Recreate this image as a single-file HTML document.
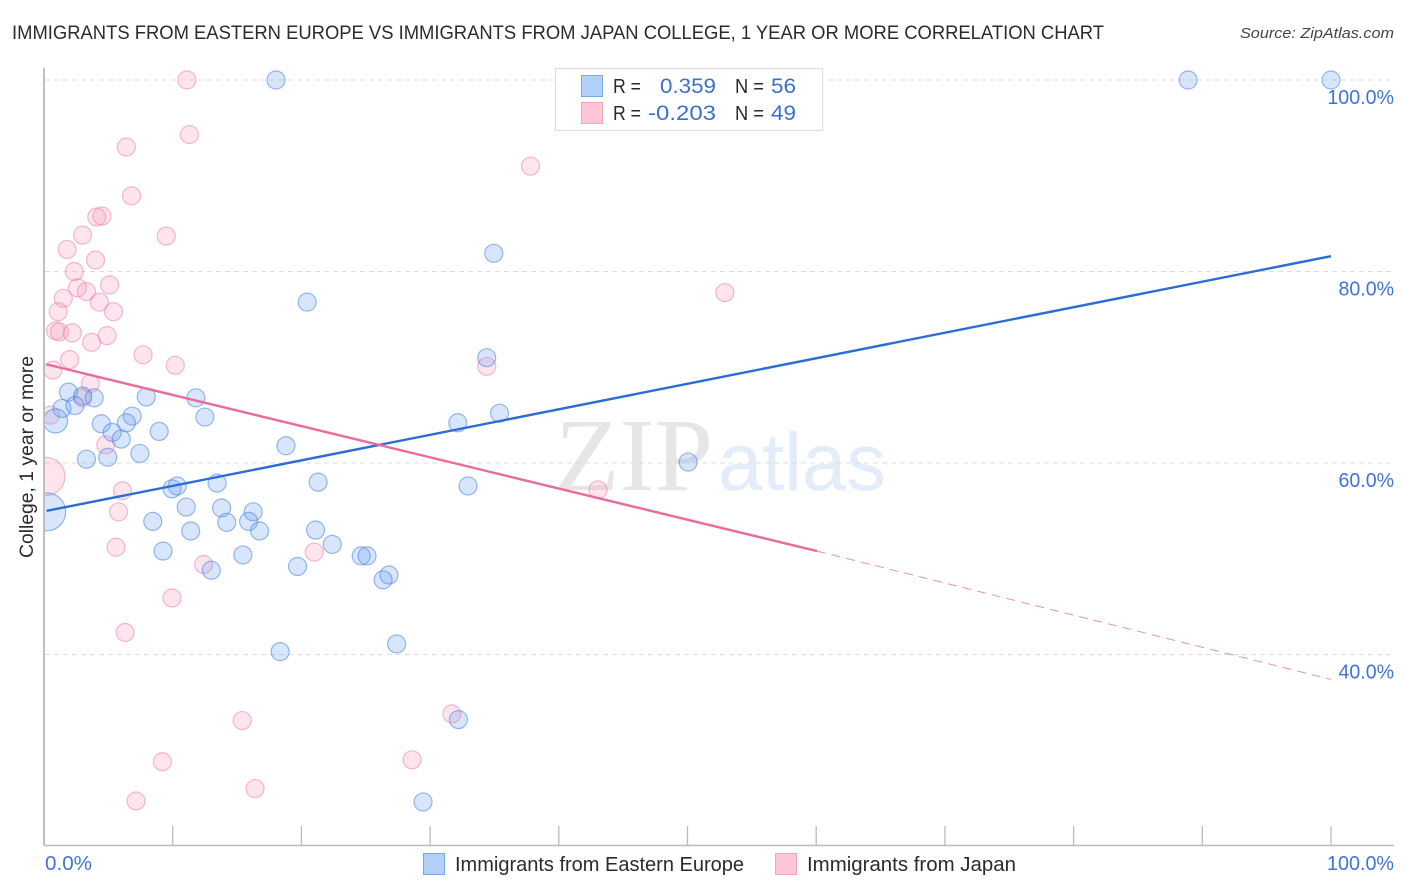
<!DOCTYPE html>
<html lang="en">
<head>
<meta charset="utf-8">
<title>Immigrants from Eastern Europe vs Immigrants from Japan College Correlation Chart</title>
<style>
html,body{margin:0;padding:0;background:#fff;}
svg{display:block;font-family:"Liberation Sans",sans-serif;}
</style>
</head>
<body>
<svg id="chart" width="1406" height="892" viewBox="0 0 1406 892" xmlns="http://www.w3.org/2000/svg">
  <defs><clipPath id="plot-clip"><rect x="45" y="60" width="1360" height="785"/></clipPath></defs>
  <text x="12" y="39" font-size="19.5" fill="#2b2b2b" textLength="1092" lengthAdjust="spacingAndGlyphs">IMMIGRANTS FROM EASTERN EUROPE VS IMMIGRANTS FROM JAPAN COLLEGE, 1 YEAR OR MORE CORRELATION CHART</text>
  <text x="1394" y="38" font-size="15" font-style="italic" fill="#444" text-anchor="end" textLength="154" lengthAdjust="spacingAndGlyphs">Source: ZipAtlas.com</text>
  <g id="watermark">
    <text x="555" y="490" font-family="'Liberation Serif',serif" font-size="104" fill="#e6e6e6" textLength="158" lengthAdjust="spacingAndGlyphs">ZIP</text>
    <text x="718" y="490" font-size="82" fill="#e3edfa" textLength="168" lengthAdjust="spacingAndGlyphs">atlas</text>
  </g>
  <g id="grid"></g>
  <g id="axes"></g>
  <g id="points" clip-path="url(#plot-clip)"></g>
  <g id="trends"></g>
  <g id="tick-labels"></g>
  <text transform="translate(33,457) rotate(-90)" font-size="19" fill="#2b2b2b" text-anchor="middle" textLength="202" lengthAdjust="spacingAndGlyphs">College, 1 year or more</text>

  <g>
    <rect x="555.5" y="68.5" width="267" height="62" fill="#fff" stroke="#ddd" stroke-width="1.2"/>
    <rect x="581.5" y="75.5" width="21" height="21" fill="#b3d1f8" stroke="#7aa7e6"/>
    <rect x="581.5" y="102.5" width="21" height="21" fill="#fcc6d8" stroke="#f2a3bf"/>
    <text x="613" y="93" font-size="20" fill="#2b2b2b" textLength="28" lengthAdjust="spacingAndGlyphs">R =</text>
    <text x="716" y="93" font-size="21.5" fill="#3a70d2" text-anchor="end" textLength="56" lengthAdjust="spacingAndGlyphs">0.359</text>
    <text x="735" y="93" font-size="20" fill="#2b2b2b" textLength="29" lengthAdjust="spacingAndGlyphs">N =</text>
    <text x="771" y="93" font-size="21.5" fill="#3a70d2" textLength="25" lengthAdjust="spacingAndGlyphs">56</text>
    <text x="613" y="120" font-size="20" fill="#2b2b2b" textLength="28" lengthAdjust="spacingAndGlyphs">R =</text>
    <text x="716" y="120" font-size="21.5" fill="#3a70d2" text-anchor="end" textLength="68" lengthAdjust="spacingAndGlyphs">-0.203</text>
    <text x="735" y="120" font-size="20" fill="#2b2b2b" textLength="29" lengthAdjust="spacingAndGlyphs">N =</text>
    <text x="771" y="120" font-size="21.5" fill="#3a70d2" textLength="25" lengthAdjust="spacingAndGlyphs">49</text>
  </g>

  <g>
    <g>
      <rect x="423.5" y="853.5" width="21" height="21" fill="#b3d1f8" stroke="#7aa7e6"/>
      <text x="455" y="871" font-size="20" fill="#2b2b2b" textLength="289" lengthAdjust="spacingAndGlyphs">Immigrants from Eastern Europe</text>
    </g>
    <g>
      <rect x="775.5" y="853.5" width="21" height="21" fill="#fcc6d8" stroke="#f2a3bf"/>
      <text x="807" y="871" font-size="20" fill="#2b2b2b" textLength="209" lengthAdjust="spacingAndGlyphs">Immigrants from Japan</text>
    </g>
  </g>
</svg>
<script>
const blueX = [18.03,88.9,100,34.95,20.45,34.4,1.9,3.0,3.9,7.95,11.8,1.4,2.4,0.9,6.85,4.45,6.4,12.5,5.3,8.95,6.0,18.8,7.45,3.3,4.95,32.15,35.4,50.05,32.95,21.3,13.45,9.95,10.35,11.05,13.8,16.25,8.45,14.2,15.9,11.4,16.75,21.1,22.4,0.2,9.25,15.45,19.7,24.65,25.1,26.8,26.35,13.0,18.35,27.4,32.2,29.45];
const blueY = [100,100,100,81.9,76.8,71.0,67.4,67.0,66.8,66.9,66.8,65.7,66.0,64.4,64.9,64.1,64.2,64.8,63.2,63.3,62.5,61.8,61.0,60.4,60.6,64.2,65.2,60.1,57.6,58.0,57.9,57.3,57.6,55.4,55.3,54.9,53.9,53.8,53.9,52.9,52.9,53.0,51.5,54.9,50.8,50.4,49.2,50.3,50.3,48.3,47.8,48.8,40.3,41.1,33.2,24.6];
const blueWeight = {13:1.8, 43:4.5};
const pinkX = [11.1,11.3,6.4,37.8,6.8,4.1,4.5,3.0,9.5,1.8,4.0,2.35,52.9,5.1,2.6,3.3,1.5,4.3,1.1,5.4,0.9,1.2,2.2,4.9,3.7,7.7,2.0,10.2,34.4,0.7,3.6,3.0,0.5,4.8,0.15,6.1,43.05,5.8,5.6,12.4,21.0,9.95,6.3,31.7,15.4,9.2,28.6,16.4,7.15];
const pinkY = [100,94.3,93.0,91.0,87.9,85.7,85.8,83.8,83.7,82.3,81.2,80.0,77.8,78.6,78.3,77.9,77.2,76.8,75.8,75.8,73.8,73.7,73.6,73.3,72.6,71.3,70.8,70.2,70.1,69.7,68.3,66.8,65.0,61.9,58.6,57.1,57.2,54.9,51.2,49.4,50.7,45.9,42.3,33.8,33.1,28.8,29.0,26.0,24.7];
const pinkWeight = {34:4.5};
const blueTrendX = [0.2,100];
const blueTrendY = [55.0,81.6];
const pinkTrendX = [0.2,60.06];
const pinkTrendY = [70.3,50.8];
const pinkDashX = [60.06,100];
const pinkDashY = [50.8,37.4];
const yTicks = [100,80,60,40];
const yTickLabels = ["100.0%","80.0%","60.0%","40.0%"];
const xTicks = [10,20,30,40,50,60,70,80,90,100];
const xEndLabels = ["0.0%","100.0%"];

const NS = "http://www.w3.org/2000/svg";
function xScale(v){ return 44 + v * 12.87; }
function yScale(v){ return 654.5 - (v - 40) * 9.575; }
function make(tag, attrs, parent){
  const el = document.createElementNS(NS, tag);
  for (const k in attrs) el.setAttribute(k, attrs[k]);
  parent.appendChild(el);
  return el;
}

const grid = document.getElementById("grid");
const axes = document.getElementById("axes");
const labels = document.getElementById("tick-labels");
const points = document.getElementById("points");
const trends = document.getElementById("trends");

yTicks.forEach(function(t, i){
  const line = make("line", {x1:45, x2:1394, y1:yScale(t), y2:yScale(t), stroke:"#dcdcdc", "stroke-width":1, "stroke-dasharray":"5 4"}, grid);
  
  
  const label = make("text", {x:1394, y:yScale(t) + 24, "font-size":20, fill:"#3f74d4", "text-anchor":"end", textLength:yTickLabels[i].length * 11.1, lengthAdjust:"spacingAndGlyphs"}, labels);
  
  
  label.textContent = yTickLabels[i];
});

const yAxis = make("line", {x1:44, x2:44, y1:68, y2:845.5, stroke:"#aaa", "stroke-width":1.5}, axes);


const xAxis = make("line", {x1:44, x2:1394, y1:845.5, y2:845.5, stroke:"#bbb", "stroke-width":1.5}, axes);


xTicks.forEach(function(t){
  const tick = make("line", {x1:xScale(t), x2:xScale(t), y1:826, y2:845, stroke:"#bbb", "stroke-width":1.3}, axes);
  
  
});

const xLabelLeft = make("text", {x:45, y:870, "font-size":20, fill:"#3f74d4", textLength:47, lengthAdjust:"spacingAndGlyphs"}, labels);


xLabelLeft.textContent = xEndLabels[0];
const xLabelRight = make("text", {x:1394, y:870, "font-size":20, fill:"#3f74d4", "text-anchor":"end", textLength:67, lengthAdjust:"spacingAndGlyphs"}, labels);


xLabelRight.textContent = xEndLabels[1];

function radius(weight){ return 9 * Math.sqrt(weight || 1); }

pinkX.forEach(function(x, i){
  const c = make("circle", {cx:xScale(x), cy:yScale(pinkY[i]), r:radius(pinkWeight[i]), fill:"rgba(246,150,185,0.26)", stroke:"rgba(238,130,170,0.55)", "stroke-width":1.2}, points);
  
  
});
blueX.forEach(function(x, i){
  const c = make("circle", {cx:xScale(x), cy:yScale(blueY[i]), r:radius(blueWeight[i]), fill:"rgba(105,160,240,0.26)", stroke:"rgba(70,130,225,0.55)", "stroke-width":1.2}, points);
  
  
});

const blueTrend = make("line", {x1:xScale(blueTrendX[0]), x2:xScale(blueTrendX[1]), y1:yScale(blueTrendY[0]), y2:yScale(blueTrendY[1]), stroke:"#2a6dd6", "stroke-width":2.4}, trends);


const pinkTrend = make("line", {x1:xScale(pinkTrendX[0]), x2:xScale(pinkTrendX[1]), y1:yScale(pinkTrendY[0]), y2:yScale(pinkTrendY[1]), stroke:"#ec6a9a", "stroke-width":2.4}, trends);


const pinkDash = make("line", {x1:xScale(pinkDashX[0]), x2:xScale(pinkDashX[1]), y1:yScale(pinkDashY[0]), y2:yScale(pinkDashY[1]), stroke:"#ec8fb0", "stroke-width":1, "stroke-dasharray":"9 6"}, trends);


</script>
</body>
</html>
